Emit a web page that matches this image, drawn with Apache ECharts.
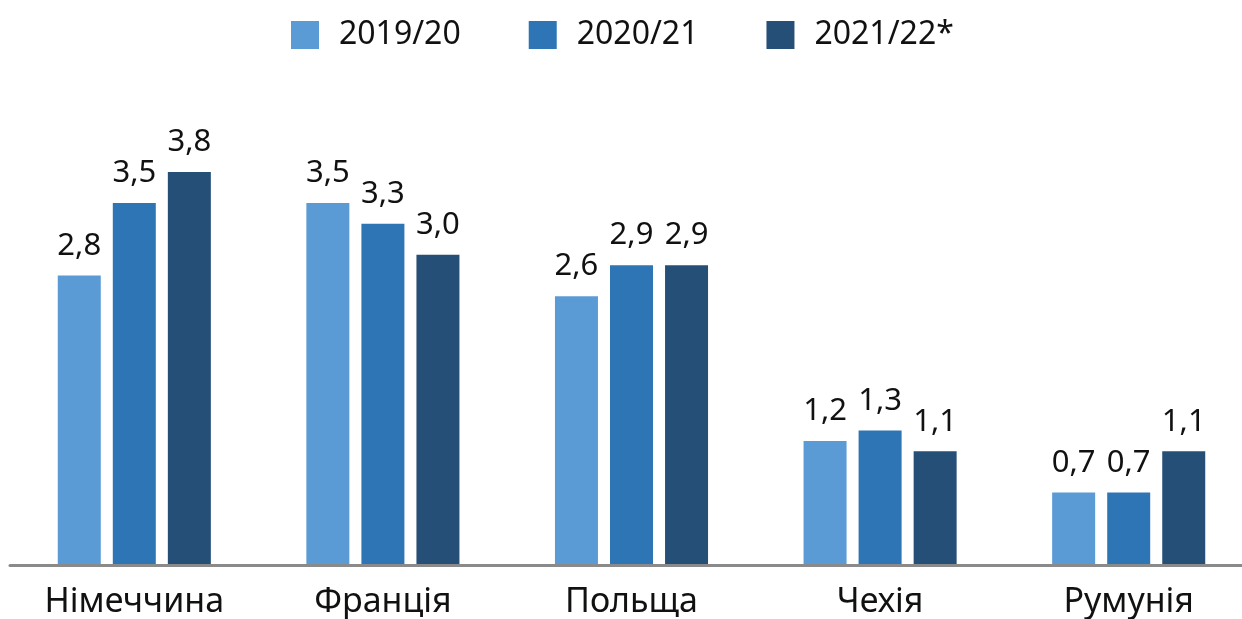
<!DOCTYPE html>
<html>
<head>
<meta charset="utf-8">
<script src="https://cdn.jsdelivr.net/npm/echarts@6/dist/echarts.min.js"></script>
<style>html,body{margin:0;padding:0;background:#fff;overflow:hidden;width:1242px;height:619px;}#c{width:1253px;height:619px;}</style>
</head>
<body>
<div id="c"></div>
<script>
const categories = ['Німеччина', 'Франція', 'Польща', 'Чехія', 'Румунія'];
const seriesNames = ['2019/20', '2020/21', '2021/22*'];
const values2019 = [2.8, 3.5, 2.6, 1.2, 0.7];
const values2020 = [3.5, 3.3, 2.9, 1.3, 0.7];
const values2021 = [3.8, 3.0, 2.9, 1.1, 1.1];
const colors = ['#5B9BD5', '#2E75B6', '#264F78'];

const FONT = '"Noto Sans", "DejaVu Sans", sans-serif';
const chart = echarts.init(document.getElementById('c'), null, {renderer: 'canvas'});
const allValues = [values2019, values2020, values2021];
chart.setOption({
  animation: false,
  backgroundColor: '#ffffff',
  textStyle: {fontFamily: FONT},
  legend: {
    left: 286,
    top: 14,
    itemWidth: 28,
    itemHeight: 28,
    itemGap: 68,
    icon: 'rect',
    data: seriesNames,
    textStyle: {fontFamily: FONT, fontSize: 32, color: '#111', width: 115, padding: [0, 0, 0, 15]}
  },
  grid: {left: 10, right: 0, bottom: 53, height: 518, containLabel: false},
  xAxis: {
    type: 'category',
    data: categories,
    z: 10,
    axisLine: {lineStyle: {color: '#8a8a8a', width: 3}},
    axisTick: {show: false},
    axisLabel: {fontFamily: FONT, fontSize: 34, color: '#111', margin: 20}
  },
  yAxis: {
    type: 'value', min: 0, max: 5,
    show: false,
    splitLine: {show: false}
  },
  series: seriesNames.map((name, i) => ({
    name: name,
    type: 'bar',
    data: allValues[i],
    barWidth: 43,
    barGap: '28%',
    itemStyle: {color: colors[i]},
    label: {
      show: true, position: 'top', distance: 14,
      fontFamily: FONT, fontSize: 31, color: '#111',
      formatter: p => p.value.toFixed(1).replace('.', ',')
    }
  }))
});
</script>
</body>
</html>
